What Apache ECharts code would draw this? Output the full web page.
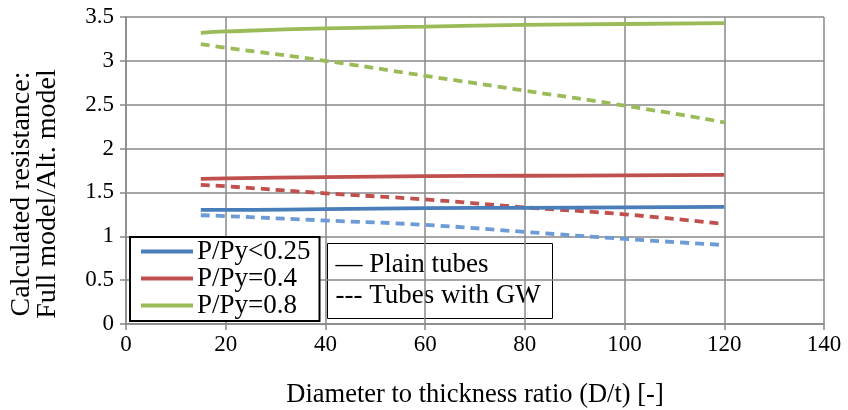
<!DOCTYPE html>
<html>
<head>
<meta charset="utf-8">
<script src="https://cdn.jsdelivr.net/npm/echarts@6/dist/echarts.min.js"></script>
<style>
  html, body { margin: 0; padding: 0; background: #fff; }
  #chart { width: 848px; height: 410px; }
</style>
</head>
<body>
<div id="chart"></div>
<script>
// Diameter-to-thickness ratios at which the resistance ratio was computed
const dtRatio = [15, 20, 40, 60, 80, 100, 120];

// Plain tubes (solid lines)
const plainLow  = [1.30, 1.30, 1.31, 1.32, 1.325, 1.33, 1.335];
const plainMid  = [1.655, 1.66, 1.675, 1.685, 1.69, 1.695, 1.70];
const plainHigh = [3.32, 3.335, 3.37, 3.39, 3.41, 3.42, 3.43];

// Tubes with girth weld (dashed lines)
const gwLow  = [1.24, 1.23, 1.18, 1.13, 1.05, 0.97, 0.90];
const gwMid  = [1.585, 1.57, 1.49, 1.42, 1.33, 1.25, 1.14];
const gwHigh = [3.19, 3.15, 3.00, 2.83, 2.66, 2.49, 2.30];

const loadNames = ['P/Py<0.25', 'P/Py=0.4', 'P/Py=0.8'];
const yTicks = ['0', '0.5', '1', '1.5', '2', '2.5', '3', '3.5'];
const yTitle = 'Calculated resistance:\nFull model/Alt. model';

const pair = (ys) => dtRatio.map((x, i) => [x, ys[i]]);
const FONT = 'Liberation Serif';
const GRID = '#888888';

function lineSeries(name, ys, color, dashed) {
  return {
    type: 'line',
    name: name,
    data: pair(ys),
    smooth: true,
    symbol: 'none',
    lineStyle: { color: color, width: 3.8, type: dashed ? [9, 6] : 'solid', cap: 'butt' },
    itemStyle: { color: color },
    z: dashed ? 2 : 3
  };
}

const chart = echarts.init(document.getElementById('chart'), null, { renderer: 'canvas' });
chart.setOption({
  animation: false,
  backgroundColor: '#ffffff',
  textStyle: { fontFamily: FONT, color: '#000' },
  grid: {
    left: 126, right: 24, top: 17, bottom: 86,
    containLabel: false, outerBoundsMode: 'none'
  },
  xAxis: {
    type: 'value',
    min: 0, max: 140, interval: 20,
    name: 'Diameter to thickness ratio (D/t) [-]',
    nameLocation: 'middle',
    nameGap: 58,
    nameTextStyle: { fontFamily: FONT, fontSize: 26.5, color: '#000' },
    axisLine: { lineStyle: { color: GRID, width: 1.5 } },
    axisTick: { show: true, length: 6, lineStyle: { color: GRID, width: 1.5 } },
    axisLabel: { fontFamily: FONT, fontSize: 23, color: '#000', margin: 9 },
    splitLine: { show: true, lineStyle: { color: GRID, width: 1.5 } }
  },
  yAxis: {
    type: 'value',
    min: 0, max: 3.5, interval: 0.5,
    axisLine: { show: true, lineStyle: { color: GRID, width: 1.5 } },
    axisTick: { show: true, length: 6, lineStyle: { color: GRID, width: 1.5 } },
    axisLabel: {
      fontFamily: FONT, fontSize: 23, color: '#000', margin: 12,
      formatter: (v) => yTicks[Math.round(v / 0.5)]
    },
    splitLine: { show: true, lineStyle: { color: GRID, width: 1.5 } }
  },
  legend: {
    data: loadNames.map((n) => ({ name: n, icon: 'rect' })),
    left: 130, top: 237,
    orient: 'vertical',
    itemWidth: 52, itemHeight: 4, itemGap: 0,
    padding: [1, 9, 2, 11],
    borderColor: '#000', borderWidth: 2,
    backgroundColor: '#fff',
    textStyle: { fontFamily: FONT, fontSize: 27, color: '#000', lineHeight: 27, padding: [0, 0, 0, -1] },
    selectedMode: false
  },
  graphic: [
    // vertical axis title, two centred lines reading bottom to top
    {
      type: 'text',
      x: 35, y: 194,
      rotation: Math.PI / 2,
      style: {
        text: yTitle, font: '28px "Liberation Serif"', fill: '#000',
        align: 'center', verticalAlign: 'middle', lineHeight: 26
      }
    },
    // line-style key
    {
      type: 'group',
      left: 327, top: 243,
      children: [
        { type: 'rect', shape: { x: 0, y: 0, width: 225, height: 75 },
          style: { fill: '#fff', stroke: '#000', lineWidth: 1 } },
        { type: 'text', x: 8, y: 21, style: {
            text: '— Plain tubes', font: '27px "Liberation Serif"', fill: '#000', verticalAlign: 'middle' } },
        { type: 'text', x: 8, y: 52, style: {
            text: '--- Tubes with GW', font: '27px "Liberation Serif"', fill: '#000', verticalAlign: 'middle' } }
      ]
    }
  ],
  series: [
    lineSeries(loadNames[0], plainLow, '#4A7EBB', false),
    lineSeries(loadNames[1], plainMid, '#C0504D', false),
    lineSeries(loadNames[2], plainHigh, '#9BBB59', false),
    lineSeries(loadNames[0], gwLow, '#6C9BD5', true),
    lineSeries(loadNames[1], gwMid, '#C0504D', true),
    lineSeries(loadNames[2], gwHigh, '#9BBB59', true)
  ]
});
</script>
</body>
</html>
